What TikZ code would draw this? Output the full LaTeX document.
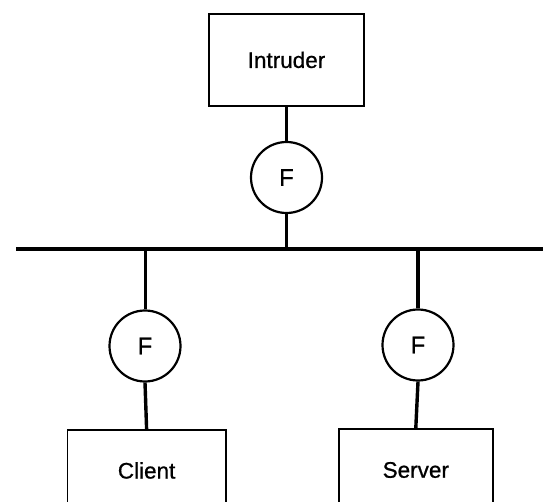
\documentclass[tikz,border=0pt]{standalone}
\usepackage{fontspec}
\setmainfont[FakeBold=0.8]{Liberation Sans}
\begin{document}
\begin{tikzpicture}[x=1pt,y=-1pt,
  box/.style={draw,line width=1.8pt,inner sep=0pt,font=\fontsize{22.5}{26}\selectfont},
  filt/.style={draw,circle,line width=2.2pt,minimum size=71pt,inner sep=0pt,font=\fontsize{24}{28}\selectfont},
  wire/.style={line width=3.4pt},
  thinwire/.style={line width=3pt},
  bus/.style={line width=3.6pt}]
\clip (0,0) rectangle (543,502);
\useasboundingbox (0,0) rectangle (543,502);
\node[box,minimum width=155pt,minimum height=91.7pt] (intr) at (286.5,59.9) {Intruder};
\node[filt] (f1) at (286.5,177.5) {F};
\node[filt] (f2) at (145,346) {F};
\node[filt] (f3) at (418,345) {F};
\node[box,minimum width=158.2pt,minimum height=81pt] (cli) at (146.6,470.5) {Client};
\node[box,minimum width=154.4pt,minimum height=82pt] (srv) at (415.8,470) {Server};
\coordinate (busL) at (16,249);
\coordinate (busR) at (545,249);
\coordinate (b1) at (286.5,249);
\coordinate (b2) at (145,249);
\coordinate (b3) at (418,249);
\draw[bus] (busL) -- (busR);
\draw[wire] (intr.south) -- (f1.north);
\draw[wire] (f1.south) -- (b1);
\draw[thinwire] (b2) -- (f2.north);
\draw[wire] (f2.south) -- (cli.north);
\draw[wire] (b3) -- (f3.north);
\draw[wire] (f3.south) -- (srv.north);
\end{tikzpicture}
\end{document}
